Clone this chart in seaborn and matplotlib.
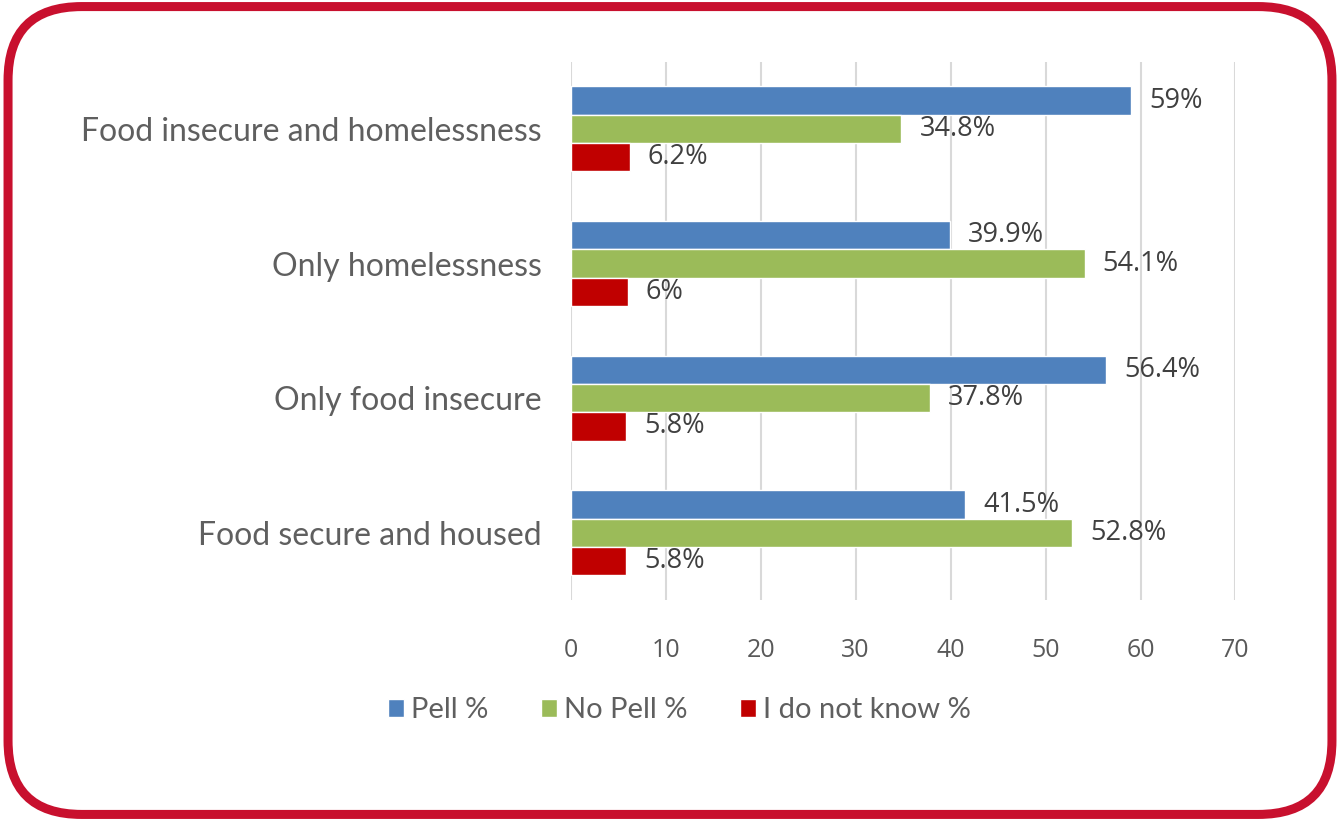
import matplotlib
matplotlib.use("Agg")
import matplotlib.pyplot as plt
from matplotlib.patches import FancyBboxPatch, Patch
import seaborn as sns
import pandas as pd

categories = ["Food insecure and homelessness", "Only homelessness",
              "Only food insecure", "Food secure and housed"]
series = ["Pell %", "No Pell %", "I do not know %"]
pell = [59, 39.9, 56.4, 41.5]
no_pell = [34.8, 54.1, 37.8, 52.8]
dont_know = [6.2, 6, 5.8, 5.8]
value_labels = [["59%", "39.9%", "56.4%", "41.5%"],
                ["34.8%", "54.1%", "37.8%", "52.8%"],
                ["6.2%", "6%", "5.8%", "5.8%"]]
x_ticks = [0, 10, 20, 30, 40, 50, 60, 70]

colors = ["#4f81bd", "#9bbb59", "#c00000"]

rows = []
for s, vals in zip(series, [pell, no_pell, dont_know]):
    for c, v in zip(categories, vals):
        rows.append({"category": c, "series": s, "value": v})
df = pd.DataFrame(rows)

sns.set_theme(style="white")
plt.rcParams["font.family"] = ["Open Sans", "DejaVu Sans"]

fig = plt.figure(figsize=(13.4, 8.21), dpi=100)
ax = fig.add_axes([0.426, 0.269, 0.496, 0.656])

sns.barplot(data=df, y="category", x="value", hue="series", order=categories,
            hue_order=series, palette=colors, orient="h", width=0.63,
            saturation=1, legend=False, ax=ax)

ax.set_xlim(0, 70)
ax.set_xticks(x_ticks)
ax.grid(axis="x", color="#d9d9d9", linewidth=1.5)
ax.set_axisbelow(True)
for sp in ax.spines.values():
    sp.set_visible(False)
ax.set_xlabel("")
ax.set_ylabel("")
ax.tick_params(axis="x", labelsize=18, colors="#595959", pad=27, length=0)
ax.tick_params(axis="y", labelsize=23, colors="#5f5f5f", pad=21, length=0)
for t in ax.get_yticklabels():
    t.set_fontfamily(["Lato", "DejaVu Sans"])
    t.set_fontweight("normal")

for container, labels in zip(ax.containers, value_labels):
    ax.bar_label(container, labels=labels, padding=13, fontsize=19.5,
                 color="#404040")

handles = [Patch(facecolor=c, label=s) for c, s in zip(colors, series)]
leg = fig.legend(handles=handles, loc="center", bbox_to_anchor=(0.507, 0.135),
                 ncol=3, frameon=False, handlelength=0.55, handleheight=0.55,
                 handletextpad=0.25, columnspacing=1.8,
                 prop={"family": ["Lato", "DejaVu Sans"], "weight": "normal",
                       "size": 21})
for t in leg.get_texts():
    t.set_color("#5f5f5f")

border = FancyBboxPatch((0.006, 0.008), 0.988, 0.984,
                        boxstyle="round,pad=0,rounding_size=0.055",
                        transform=fig.transFigure, facecolor="none",
                        edgecolor="#c8102e", linewidth=6.5,
                        mutation_aspect=1340 / 821)
fig.patches.append(border)

fig.savefig("out.png", dpi=100)
